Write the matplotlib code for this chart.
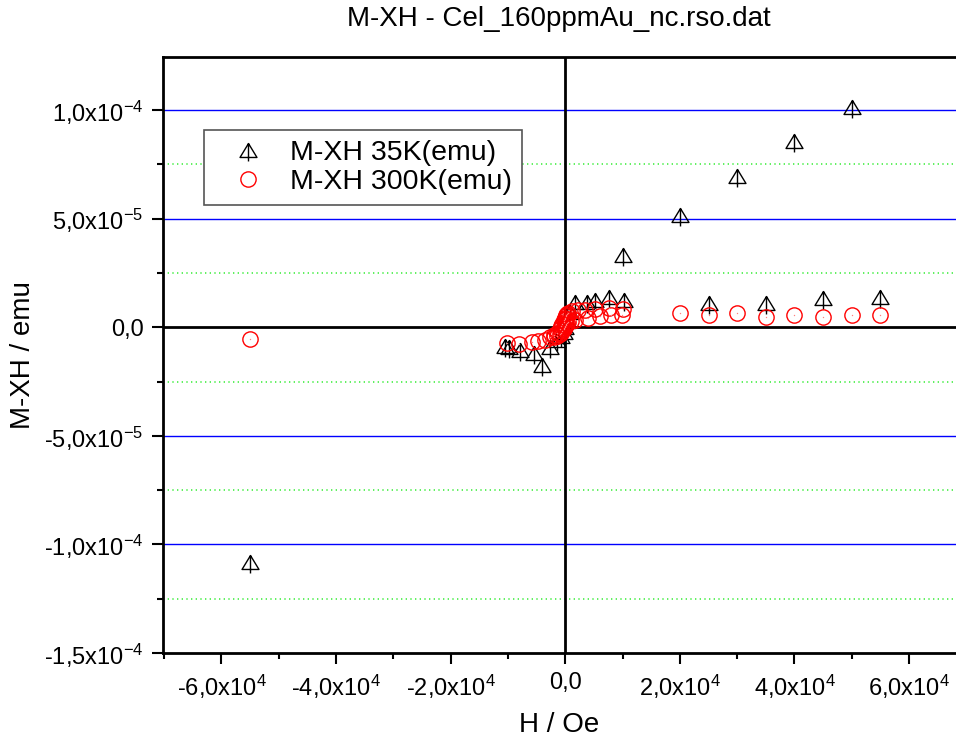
import matplotlib
matplotlib.use("Agg")
import matplotlib.pyplot as plt
from matplotlib.path import Path
from matplotlib.ticker import FixedLocator, MultipleLocator

plt.rcParams['font.family'] = ['Liberation Sans', 'DejaVu Sans']
plt.rcParams['mathtext.fontset'] = 'custom'
plt.rcParams['mathtext.rm'] = 'Liberation Sans'
plt.rcParams['mathtext.it'] = 'Liberation Sans'

title = "M-XH - Cel_160ppmAu_nc.rso.dat"
label35 = "M-XH 35K(emu)"
label300 = "M-XH 300K(emu)"

# 35 K sweep (H in Oe, M in emu)
h35 = [-55000, -10500, -9900, -7900, -5500, -4100, -2600, -1500, -800, -300, 0,
       300, 800, 1750, 3800, 5200, 7600, 10200, 10000,
       20000, 25000, 30000, 35000, 40000, 45000, 50000, 55000]
m35 = [-1.083e-4, -8.5e-6, -9.1e-6, -1.06e-5, -1.2e-5, -1.75e-5, -9.0e-6, -6.0e-6, -4.0e-6, -2.0e-6, 0.0,
       3.0e-6, 7.0e-6, 1.17e-5, 1.17e-5, 1.24e-5, 1.40e-5, 1.24e-5, 3.32e-5,
       5.17e-5, 1.10e-5, 6.97e-5, 1.10e-5, 8.59e-5, 1.33e-5, 1.017e-4, 1.41e-5]

# 300 K sweep
h300 = [-55000,
        10000, 7600, 5200, 3500, 2300, 1200, 500, 300, 200, 100, 0, -100, -200, -300,
        -500, -700, -1000, -1500, -2000, -2600, -3500, -4800, -5800, -8000, -10200,
        -2000, -1500, -1000, -700, -500, -300, -200, -100, 0, 100, 200, 300, 500,
        1000, 1750, 3960, 6000, 8000, 9900,
        20000, 25000, 30000, 35000, 40000, 45000, 50000, 55000]
m300 = [-5.5e-6,
        8.6e-6, 8.9e-6, 8.3e-6, 7.8e-6, 7.8e-6, 7.4e-6, 6.5e-6, 6.0e-6, 5.5e-6, 5.0e-6, 4.5e-6, 4.0e-6, 3.3e-6, 2.6e-6,
        1.5e-6, 0.5e-6, -0.8e-6, -2.5e-6, -3.6e-6, -4.5e-6, -5.7e-6, -6.45e-6, -6.8e-6, -7.5e-6, -7.05e-6,
        -4.5e-6, -4.0e-6, -3.2e-6, -2.5e-6, -1.8e-6, -1.0e-6, -0.5e-6, 0.0, 0.6e-6, 1.2e-6, 1.7e-6, 2.1e-6, 2.5e-6,
        2.9e-6, 3.2e-6, 4.3e-6, 5.1e-6, 5.5e-6, 5.85e-6,
        6.8e-6, 5.9e-6, 6.8e-6, 4.75e-6, 5.9e-6, 4.75e-6, 5.5e-6, 5.5e-6]

xticks = [-60000, -40000, -20000, 0, 20000, 40000, 60000]
xticklabels = ['-6,0x10$^{4}$', '-4,0x10$^{4}$', '-2,0x10$^{4}$', '0,0',
               '2,0x10$^{4}$', '4,0x10$^{4}$', '6,0x10$^{4}$']
yticks = [-1.5e-4, -1.0e-4, -5e-5, 0, 5e-5, 1.0e-4]
yticklabels = ['-1,5x10$^{-4}$', '-1,0x10$^{-4}$', '-5,0x10$^{-5}$', '0,0',
               '5,0x10$^{-5}$', '1,0x10$^{-4}$']

# open triangle with a vertical bar through it
tri = Path([(-8.5, -7), (0, 7), (8.5, -7), (-8.5, -7), (0, 7), (0, -11)],
           [Path.MOVETO, Path.LINETO, Path.LINETO, Path.CLOSEPOLY, Path.MOVETO, Path.LINETO])

fig = plt.figure(figsize=(9.56, 7.47), dpi=100)
ax = fig.add_axes([0.1705, 0.1258, 0.829, 0.7979])

for yv in [-1.0e-4, -5e-5, 5e-5, 1.0e-4]:
    ax.axhline(yv, color='#0000ff', lw=1.0, zorder=1)
for yv in [-1.25e-4, -7.5e-5, -2.5e-5, 2.5e-5, 7.5e-5, 1.25e-4]:
    ax.axhline(yv, color='#44ee44', lw=1.2, dashes=(0.8, 2.0), zorder=1)
ax.axhline(0, color='black', lw=2, zorder=2)
ax.axvline(0, color='black', lw=2, zorder=2)

ax.plot(h35, m35, ls='none', marker=tri, ms=15.8, mfc='none', mec='black',
        mew=1.0, label=label35, zorder=3)
ax.plot(h300, m300, ls='none', marker='o', ms=11, mfc='none', mec='red',
        mew=1.0, label=label300, zorder=4)
ax.plot(h300, m300, ls='none', marker='o', ms=1.0, mfc='#ff8080', mec='none', zorder=4)

ax.set_xlim(-70200, 68100)
ax.set_ylim(-1.5e-4, 1.245e-4)

ax.xaxis.set_major_locator(FixedLocator(xticks))
ax.set_xticklabels(xticklabels)
ax.xaxis.set_minor_locator(MultipleLocator(10000))
ax.yaxis.set_major_locator(FixedLocator(yticks))
ax.set_yticklabels(yticklabels)
ax.yaxis.set_minor_locator(MultipleLocator(2.5e-5))

ax.tick_params(which='major', direction='out', length=8, width=1.5, labelsize=17, pad=6)
ax.tick_params(which='minor', direction='out', length=4, width=1.5)

for side in ['left', 'bottom', 'top']:
    ax.spines[side].set_linewidth(2)
ax.spines['right'].set_visible(False)

ax.set_xlabel("H / Oe", fontsize=20, labelpad=8)
ax.set_ylabel("M-XH / emu", fontsize=20, labelpad=6)
ax.set_title(title, fontsize=20, pad=22)

leg = ax.legend(loc='upper left', bbox_to_anchor=(0.052, 0.8775), borderaxespad=0,
                fontsize=20.5, numpoints=1, handlelength=2.4, handletextpad=0.25,
                borderpad=0.35, labelspacing=0.1, fancybox=False, framealpha=1)
leg.get_frame().set_edgecolor('#555555')
leg.get_frame().set_linewidth(1.2)

fig.savefig("out.png", dpi=100)
